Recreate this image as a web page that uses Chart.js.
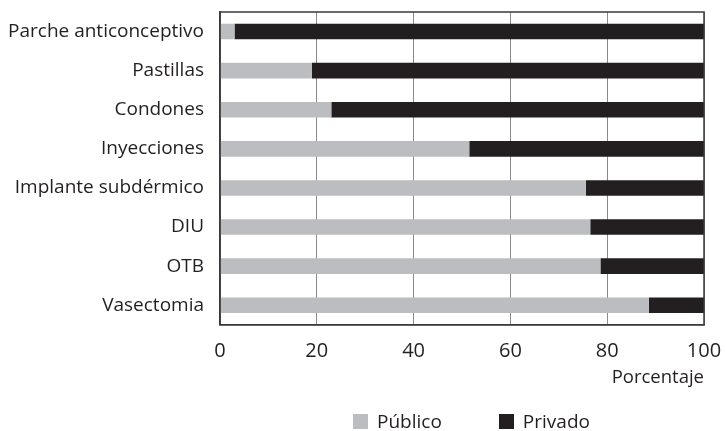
<!DOCTYPE html>
<html>
<head>
<meta charset="utf-8">
<script src="https://cdn.jsdelivr.net/npm/chart.js@4/dist/chart.umd.min.js"></script>
<style>
  html, body { margin: 0; padding: 0; background: #fff; }
  #wrap { position: relative; width: 726px; height: 431px; }
  canvas { display: block; }
  #legend {
    position: absolute; top: 410px; left: 353px;
    font-family: "Open Sans", sans-serif; font-size: 19px; color: #231f20;
    display: flex; gap: 57px; line-height: 22px;
  }
  #legend span.box { display: inline-block; width: 15px; height: 15px; margin-right: 9px; vertical-align: -1px; }
</style>
</head>
<body>
<div id="wrap">
  <canvas id="grafico" width="726" height="431"></canvas>
  <div id="legend"></div>
</div>
<script>
// categorias y valores (porcentaje)
const metodos = ["Parche anticonceptivo", "Pastillas", "Condones", "Inyecciones",
                 "Implante subdérmico", "DIU", "OTB", "Vasectomia"];
const publico = [3, 19, 23, 51.5, 75.6, 76.5, 78.6, 88.6];
const privado = [97, 81, 77, 48.5, 24.4, 23.5, 21.4, 11.4];
const ticksX = [0, 20, 40, 60, 80, 100];

const colorPublico = "#bcbdc0";
const colorPrivado = "#231f20";
const fuente = "'Open Sans', sans-serif";

const ctx = document.getElementById("grafico").getContext("2d");

new Chart(ctx, {
  type: "bar",
  data: {
    labels: metodos,
    datasets: [
      { label: "Público", data: publico, backgroundColor: colorPublico,
        barPercentage: 0.4, categoryPercentage: 1 },
      { label: "Privado", data: privado, backgroundColor: colorPrivado,
        barPercentage: 0.4, categoryPercentage: 1 }
    ]
  },
  options: {
    indexAxis: "y",
    responsive: false,
    animation: false,
    layout: { padding: { top: 12, right: 22, bottom: 42 } },
    plugins: {
      legend: { display: false },
      tooltip: { enabled: false }
    },
    scales: {
      x: {
        stacked: true,
        min: 0, max: 100,
        afterBuildTicks: (scale) => { scale.ticks = ticksX.map(v => ({ value: v })); },
        // sin relleno automatico para la etiqueta "100"
        afterFit: (scale) => { scale.paddingRight = 0; scale.paddingLeft = 0; },
        grid: { color: "#8a8a8a", lineWidth: 1, drawTicks: false },
        border: { color: "#3a3a3a", width: 1.5 },
        ticks: { color: "#231f20", font: { family: fuente, size: 20 }, padding: 14 },
        title: { display: true, text: "Porcentaje", align: "end", color: "#231f20",
                 font: { family: fuente, size: 18.5 }, padding: { top: -10, bottom: 0 } }
      },
      y: {
        stacked: true,
        grid: { display: false, drawTicks: false },
        border: { color: "#3a3a3a", width: 1.5 },
        ticks: { color: "#231f20", font: { family: fuente, size: 19 }, padding: 16 },
        afterFit: (scale) => { scale.width = 220; scale.paddingTop = 0; scale.paddingBottom = 0; }
      }
    }
  },
  plugins: [{
    // marco alrededor del area de la grafica
    id: "marco",
    afterDraw(chart) {
      const { ctx, chartArea: a } = chart;
      ctx.save();
      ctx.strokeStyle = "#3a3a3a";
      ctx.lineWidth = 1.5;
      ctx.strokeRect(a.left, a.top, a.right - a.left, a.bottom - a.top);
      ctx.restore();
    }
  }]
}).data.datasets.forEach(ds => {
  const item = document.createElement("div");
  item.innerHTML = '<span class="box" style="background:' + ds.backgroundColor + '"></span>' + ds.label;
  document.getElementById("legend").appendChild(item);
});
</script>
</body>
</html>
